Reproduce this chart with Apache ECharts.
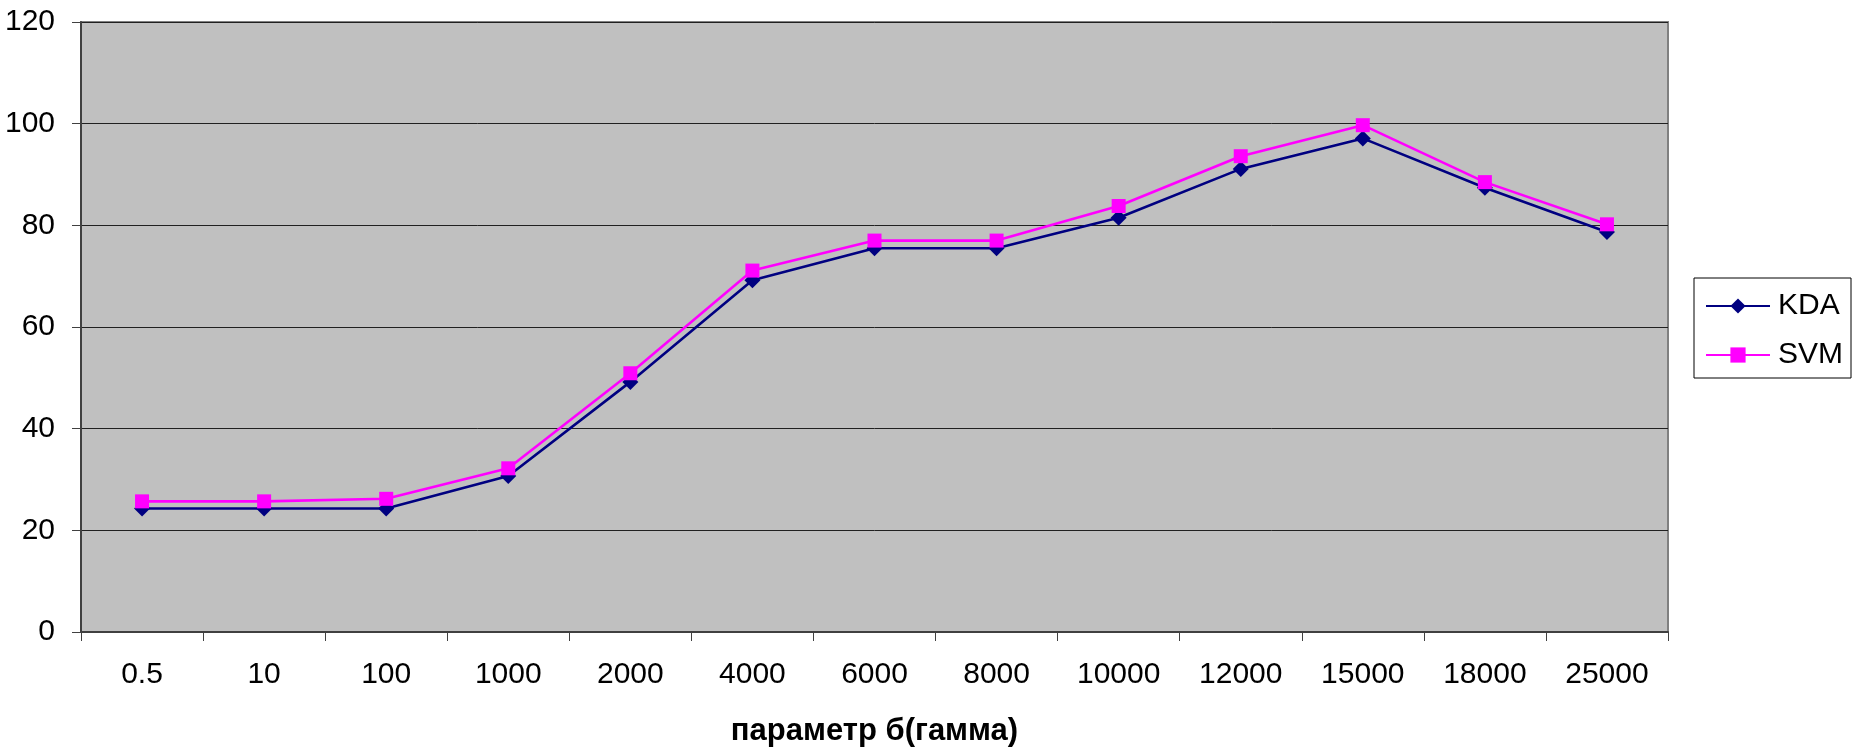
<!DOCTYPE html>
<html>
<head>
<meta charset="utf-8">
<script src="https://cdn.jsdelivr.net/npm/echarts@6/dist/echarts.min.js"></script>
<style>
  html, body { margin: 0; padding: 0; background: #ffffff; }
  #chart { width: 1852px; height: 747px; }
</style>
</head>
<body>
<div id="chart"></div>
<script>
// Gamma parameter values (category axis)
const gammaLabels = ['0.5', '10', '100', '1000', '2000', '4000', '6000', '8000', '10000', '12000', '15000', '18000', '25000'];
// Accuracy per gamma for each method
const kdaValues = [24.3, 24.3, 24.3, 30.7, 49.2, 69.2, 75.5, 75.5, 81.5, 91.1, 97.1, 87.4, 78.7];
const svmValues = [25.7, 25.7, 26.2, 32.2, 50.9, 71.1, 77.0, 77.0, 83.8, 93.6, 99.7, 88.5, 80.2];
const xAxisTitle = 'параметр б(гамма)';

const FONT = '"Liberation Sans", Arial, sans-serif';

const chart = echarts.init(document.getElementById('chart'), null, { renderer: 'canvas' });

chart.setOption({
  animation: false,
  backgroundColor: '#ffffff',
  textStyle: { fontFamily: FONT, color: '#000000' },
  grid: {
    left: 81, right: 184, top: 22, bottom: 115,
    containLabel: false,
    outerBoundsMode: 'none',
    show: true,
    backgroundColor: '#c0c0c0',
    borderColor: '#808080',
    borderWidth: 2
  },
  legend: {
    orient: 'vertical',
    left: 1694,
    top: 278,
    padding: [13, 8, 8, 11],
    itemGap: 19,
    itemWidth: 64,
    itemHeight: 19,
    borderColor: '#000000',
    borderWidth: 1,
    backgroundColor: '#ffffff',
    textStyle: { fontFamily: FONT, fontSize: 30, color: '#000000', padding: [0, 0, 0, 3] },
    data: ['KDA', 'SVM']
  },
  xAxis: {
    type: 'category',
    data: gammaLabels,
    boundaryGap: true,
    name: xAxisTitle,
    nameLocation: 'middle',
    nameGap: 84,
    nameTextStyle: { fontFamily: FONT, fontSize: 31, fontWeight: 'bold', color: '#000000' },
    axisLine: { show: true, lineStyle: { color: '#404040', width: 2 } },
    axisTick: { show: true, length: 9, lineStyle: { color: '#404040', width: 1 } },
    axisLabel: { fontFamily: FONT, fontSize: 30, color: '#000000', margin: 28 },
    splitLine: { show: false }
  },
  yAxis: {
    type: 'value',
    min: 0, max: 120, interval: 20,
    axisLine: { show: true, lineStyle: { color: '#404040', width: 2 } },
    axisTick: { show: true, length: 9, lineStyle: { color: '#404040', width: 1 } },
    axisLabel: { fontFamily: FONT, fontSize: 30, color: '#000000', margin: 26 },
    splitLine: { show: true, lineStyle: { color: '#202020', width: 1 } }
  },
  series: [
    {
      name: 'KDA',
      type: 'line',
      data: kdaValues,
      symbol: 'diamond',
      symbolSize: 16,
      showAllSymbol: true,
      lineStyle: { color: '#000080', width: 2.6 },
      itemStyle: { color: '#000080' }
    },
    {
      name: 'SVM',
      type: 'line',
      data: svmValues,
      symbol: 'rect',
      symbolSize: 14,
      showAllSymbol: true,
      lineStyle: { color: '#ff00ff', width: 2.6 },
      itemStyle: { color: '#ff00ff' }
    }
  ]
});
</script>
</body>
</html>
